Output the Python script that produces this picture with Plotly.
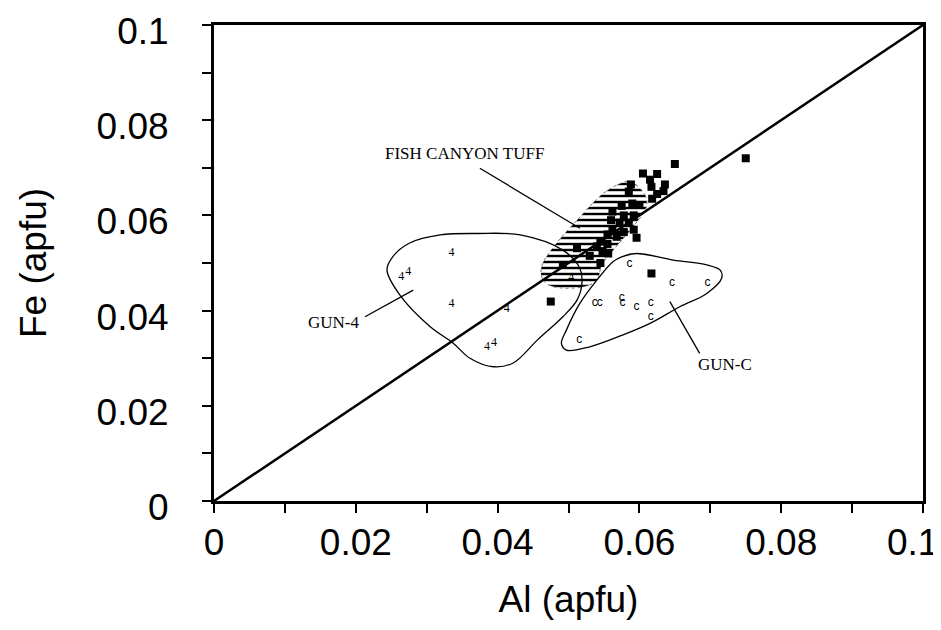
import plotly.graph_objects as go

# ---------------- data ----------------
# black squares (Fish Canyon Tuff analyses)
fct_al = [0.0750, 0.0650, 0.0605, 0.0625, 0.0615, 0.0617, 0.0636, 0.0634, 0.0625, 0.0618,
          0.0588, 0.0585, 0.0590, 0.0600, 0.0575, 0.0562, 0.0578, 0.0592, 0.0560, 0.0572,
          0.0585, 0.0592, 0.0578, 0.0562, 0.0555, 0.0568, 0.0596, 0.0545, 0.0555, 0.0540,
          0.0512, 0.0548, 0.0556, 0.0530, 0.0492, 0.0545, 0.0617, 0.0475]
fct_fe = [0.0720, 0.0708, 0.0688, 0.0687, 0.0675, 0.0660, 0.0665, 0.0651, 0.0645, 0.0635,
          0.0665, 0.0650, 0.0625, 0.0622, 0.0620, 0.0608, 0.0600, 0.0600, 0.0590, 0.0585,
          0.0585, 0.0570, 0.0565, 0.0568, 0.0560, 0.0555, 0.0553, 0.0545, 0.0540, 0.0535,
          0.0531, 0.0525, 0.0520, 0.0515, 0.0496, 0.0500, 0.0478, 0.0419]

# GUN-4 analyses ("4" symbols)
gun4_al = [0.0335, 0.0264, 0.0274, 0.0335, 0.0413, 0.0385, 0.0395, 0.0504]
gun4_fe = [0.0520, 0.0471, 0.0482, 0.0414, 0.0403, 0.0323, 0.0331, 0.0468]

# GUN-C analyses ("c" symbols)
gunc_al = [0.0586, 0.0646, 0.0696, 0.0537, 0.0544, 0.0575, 0.0576, 0.0596, 0.0616, 0.0616, 0.0515]
gunc_fe = [0.0498, 0.0457, 0.0457, 0.0417, 0.0417, 0.0427, 0.0416, 0.0407, 0.0417, 0.0387, 0.0338]

# hand drawn fields
fct_field_al = [0.0587, 0.0608, 0.0610, 0.0591, 0.0563, 0.0547, 0.0540, 0.0521, 0.0479,
                0.0464, 0.0462, 0.0479, 0.0512, 0.0549, 0.0573, 0.0587]
fct_field_fe = [0.0671, 0.0643, 0.0618, 0.0576, 0.0527, 0.0496, 0.0464, 0.0450, 0.0450,
                0.0464, 0.0492, 0.0534, 0.0590, 0.0646, 0.0667, 0.0671]

gun4_field_al = [0.0319, 0.0371, 0.0432, 0.0492, 0.0516, 0.0519, 0.0512, 0.0492, 0.0456,
                 0.0422, 0.0394, 0.0361, 0.0337, 0.0305, 0.0262, 0.0244, 0.0252, 0.0276, 0.0319]
gun4_field_fe = [0.0559, 0.0562, 0.0559, 0.0527, 0.0489, 0.0458, 0.0422, 0.0387, 0.0338,
                 0.0290, 0.0282, 0.0300, 0.0332, 0.0366, 0.0433, 0.0485, 0.0513, 0.0542, 0.0559]

gunc_field_al = [0.0575, 0.0596, 0.0648, 0.0695, 0.0714, 0.0716, 0.0695, 0.0657, 0.0615,
                 0.0577, 0.0530, 0.0497, 0.0490, 0.0497, 0.0516, 0.0540, 0.0563, 0.0575]
gunc_field_fe = [0.0513, 0.0520, 0.0506, 0.0496, 0.0485, 0.0468, 0.0436, 0.0408, 0.0373,
                 0.0349, 0.0324, 0.0317, 0.0331, 0.0359, 0.0415, 0.0464, 0.0503, 0.0513]

# 1:1 line
one_al = [0, 0.1]
one_fe = [0, 0.1]

# labels and their leader lines
labels = ["FISH CANYON TUFF", "GUN-4", "GUN-C"]
label_al = [0.0354, 0.0168, 0.0721]
label_fe = [0.0731, 0.0374, 0.0286]
leader_al = [[0.0375, 0.0516], [0.0213, 0.0281], [0.0643, 0.0685]]
leader_fe = [[0.0699, 0.0573], [0.0387, 0.0443], [0.0419, 0.0310]]

tick_vals = [i / 100 for i in range(11)]
tick_text = ["0", "", "0.02", "", "0.04", "", "0.06", "", "0.08", "", "0.1"]
# last x label sits a little left of its tick in the original
x_tick_text = tick_text[:-1] + ["0.1\u00a0\u00a0"]

fig = go.Figure()

# hatched Fish Canyon field
fig.add_trace(go.Scatter(x=fct_field_al, y=fct_field_fe, mode="lines", fill="toself",
                         line=dict(color="#777777", width=1, dash="dot", shape="spline"),
                         fillcolor="rgba(0,0,0,0)",
                         fillpattern=dict(shape="-", size=6, solidity=0.4, fgopacity=1,
                                          fgcolor="black", bgcolor="white")))
fig.add_trace(go.Scatter(x=gun4_field_al, y=gun4_field_fe, mode="lines",
                         line=dict(color="black", width=1.3, shape="spline")))
fig.add_trace(go.Scatter(x=gunc_field_al, y=gunc_field_fe, mode="lines",
                         line=dict(color="black", width=1.3, shape="spline")))
fig.add_trace(go.Scatter(x=one_al, y=one_fe, mode="lines",
                         line=dict(color="black", width=2.5)))
for i in range(len(labels)):
    fig.add_trace(go.Scatter(x=leader_al[i], y=leader_fe[i], mode="lines",
                             line=dict(color="black", width=1.3)))
fig.add_trace(go.Scatter(x=fct_al, y=fct_fe, mode="markers",
                         marker=dict(symbol="square", size=8, color="black")))
fig.add_trace(go.Scatter(x=gun4_al, y=gun4_fe, mode="text", text=["4"] * len(gun4_al),
                         textfont=dict(family="Liberation Serif", size=12, color="black")))
fig.add_trace(go.Scatter(x=gunc_al, y=gunc_fe, mode="text", text=["c"] * len(gunc_al),
                         textfont=dict(family="Liberation Sans", size=12, color="black")))

for i in range(len(labels)):
    fig.add_annotation(x=label_al[i], y=label_fe[i], text=labels[i], showarrow=False,
                       font=dict(family="Liberation Serif", size=17, color="black"))

axis_font = dict(family="Liberation Sans", size=37, color="black")
fig.update_layout(
    width=941, height=630,
    # the page puts the figure 8px in from the corner, margins allow for it
    margin=dict(l=206, r=26, t=17, b=137),
    paper_bgcolor="white", plot_bgcolor="white",
    showlegend=False,
    xaxis=dict(range=[0, 0.1], tickvals=tick_vals, ticktext=x_tick_text,
               ticks="outside", ticklen=9, tickwidth=2, tickcolor="black",
               showline=True, linewidth=3, linecolor="black", mirror=True,
               showgrid=False, zeroline=False, tickfont=axis_font,
               ticklabelstandoff=-2, ticklabeloverflow="allow", automargin=False,
               title=dict(text="Al (apfu)", font=axis_font, standoff=24)),
    yaxis=dict(range=[0, 0.1], tickvals=tick_vals, ticktext=tick_text,
               ticks="outside", ticklen=9, tickwidth=2, tickcolor="black",
               showline=True, linewidth=3, linecolor="black", mirror=True,
               showgrid=False, zeroline=False, tickfont=axis_font,
               ticklabelstandoff=26, ticklabelshift=6,
               ticklabeloverflow="allow", automargin=False,
               title=dict(text="Fe (apfu)", font=axis_font, standoff=39)),
    # second pair of axes only to draw the inner half of the crossing ticks
    xaxis2=dict(range=[0, 0.1], overlaying="x", anchor="y", side="bottom",
                tickvals=tick_vals, showticklabels=False, ticks="inside", ticklen=9,
                tickwidth=2, tickcolor="black", showgrid=False, zeroline=False,
                showline=False, automargin=False),
    yaxis2=dict(range=[0, 0.1], overlaying="y", anchor="x", side="left",
                tickvals=tick_vals, showticklabels=False, ticks="inside", ticklen=9,
                tickwidth=2, tickcolor="black", showgrid=False, zeroline=False,
                showline=False, automargin=False),
)
fig.write_html("out.html")
